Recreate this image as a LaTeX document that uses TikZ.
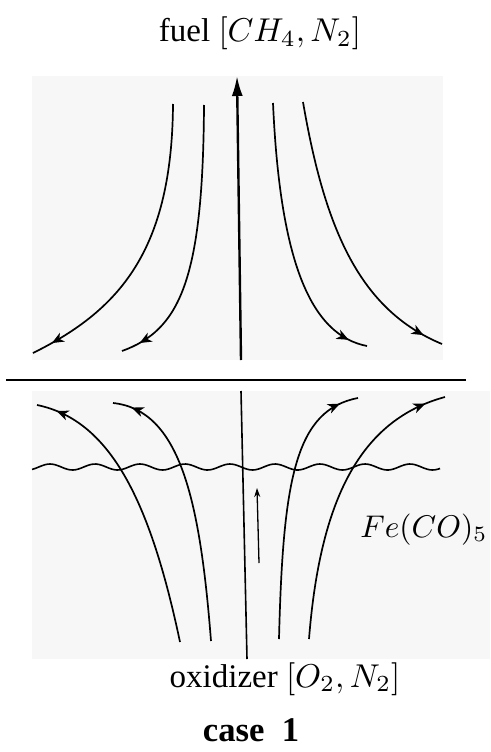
\documentclass[tikz,border=0pt]{standalone}
\usepackage[no-math]{fontspec}
\setmainfont{Liberation Serif}
\usetikzlibrary{arrows.meta,decorations.markings}
\definecolor{panelgray}{HTML}{F7F7F7}
\tikzset{
  panelbox/.style={fill=panelgray, draw=none},
  stream/.style={line width=1.7pt, postaction={decorate},
    decoration={markings, mark=at position 0.93 with {\arrow{Stealth[length=12pt,width=10pt,inset=3.5pt]}}}},
  lbl/.style={inner sep=0pt, font=\normalsize, scale=3.3},
}
\begin{document}
\begin{tikzpicture}[x=1pt,y=-1pt]
\useasboundingbox (0,0) rectangle (490,752);
% panels
\fill[panelbox] (32,76) rectangle (443,360);
\fill[panelbox] (32,391) rectangle (490,659);
% separator
\draw[line width=2.5pt] (6,380) -- (466,380);
% top panel
\draw[line width=2.4pt, -{Latex[length=20pt,width=11pt]}] (241,360) -- (237,76);
\draw[stream] (173,104) .. controls (172,250) and (120,310) .. (33,353);
\draw[stream] (204,105) .. controls (203,280) and (180,330) .. (122,351);
\draw[stream] (273,103) .. controls (280,260) and (310,335) .. (367,346);
\draw[stream] (303,102) .. controls (325,230) and (360,310) .. (442,344);
% bottom panel
\draw[line width=1.6pt] (247,659) -- (241,391);
\draw[line width=1.3pt, -{Stealth[length=9pt,width=6pt]}] (259,563) -- (257,488);
\draw[line width=1.6pt] plot[domain=32:440, samples=160, smooth] (\x, {467 - 3*cos((\x-50)*8)});
\draw[stream] (180,642) .. controls (150,500) and (110,420) .. (37,405);
\draw[stream] (211,641) .. controls (200,500) and (180,410) .. (113,403);
\draw[stream] (279,639) .. controls (283,480) and (295,410) .. (358,398);
\draw[stream] (309,639) .. controls (320,500) and (360,420) .. (445,397);
% labels
\node[lbl, anchor=base] (fuel) at (260,42) {fuel $[CH_4, N_2]$};
\node[lbl, anchor=base east, scale=0.95] (feco) at (488,537) {$Fe(CO)_5$};
\node[lbl, anchor=base] (oxid) at (285,687) {oxidizer $[O_2, N_2]$};
\node[lbl, anchor=base, scale=1.05] (case) at (251,741) {\textbf{case\ \ 1}};
\end{tikzpicture}
\end{document}
